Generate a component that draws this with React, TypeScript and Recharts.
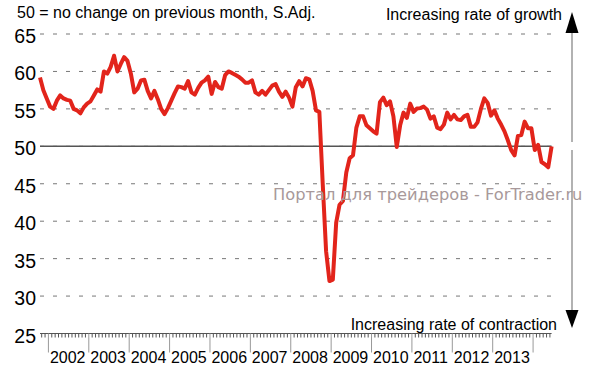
import React from 'react';
import { LineChart, Line, XAxis, YAxis, CartesianGrid, ReferenceLine } from 'recharts';

// Monthly index: 0 = Jan 2002, first value is Nov 2001 (index -2)
const firstMonth = -2;

// Index readings, Nov 2001 .. Jul 2014
const pmiValues = [
  59.2, 57.5,
  // 2002
  56.4, 55.3, 55.0, 56.1, 56.8, 56.4, 56.2, 56.1, 55.0, 54.8, 54.4, 55.2,
  // 2003
  55.7, 56.0, 56.8, 57.6, 57.3, 60.0, 59.7, 60.6, 62.1, 60.0, 61.0, 61.9,
  // 2004
  61.4, 59.7, 57.2, 57.7, 58.8, 58.9, 57.4, 56.4, 57.4, 56.3, 55.0, 54.3,
  // 2005
  55.1, 56.1, 57.1, 58.0, 57.9, 57.7, 58.7, 57.2, 56.9, 57.8, 58.5, 58.8,
  // 2006
  59.3, 57.0, 58.6, 57.9, 57.7, 59.5, 60.0, 59.8, 59.55, 59.3, 58.95, 58.5,
  // 2007
  58.5, 58.8, 57.2, 56.9, 57.4, 56.9, 57.5, 58.1, 58.3, 57.3, 56.6, 57.3,
  // 2008
  56.5, 55.3, 57.9, 58.7, 58.0, 59.1, 58.95, 57.4, 54.8, 54.6, 45.0, 36.0,
  // 2009
  32.0, 32.2, 39.8, 42.2, 42.7, 46.5, 48.4, 48.8, 52.5, 54.0, 54.0, 52.8,
  // 2010
  52.4, 52.0, 51.7, 55.9, 56.5, 55.5, 56.0, 54.0, 49.9, 52.8, 54.5, 53.8,
  // 2011
  55.7, 54.6, 55.05, 55.1, 55.3, 54.9, 53.7, 54.0, 52.5, 52.3, 52.9, 54.5,
  // 2012
  53.6, 54.2, 53.6, 53.5, 54.0, 54.2, 52.6, 52.6, 53.2, 55.0, 56.4, 55.8,
  // 2013
  54.1, 54.8, 53.7, 52.9, 52.0, 50.8, 49.5, 48.8, 51.4, 51.5, 53.3, 52.4,
  // 2014
  52.4, 49.5, 50.2, 47.9, 47.6, 47.2, 50.0,
];

const yearLabels = ['2002', '2003', '2004', '2005', '2006', '2007', '2008', '2009', '2010', '2011', '2012', '2013'];
const yTicks = [25, 30, 35, 40, 45, 50, 55, 60, 65];

const data = pmiValues.map((v, k) => ({ m: firstMonth + k, v }));
const lastMonth = firstMonth + pmiValues.length - 1;

// month boundaries for the minor ticks
const monthTicks: number[] = [];
for (let m = firstMonth; m < lastMonth; m++) monthTicks.push(m + 0.5);

const FONT = 'Arial, "Liberation Sans", sans-serif';

const XTick = (props: any) => {
  const { x, y, payload } = props;
  const k = (payload.value - 0.5) / 12;
  const isYear = Math.abs(k - Math.round(k)) < 1e-6;
  if (!isYear) {
    return <line x1={x} x2={x} y1={y} y2={y + 4} stroke="#555" strokeWidth={1} />;
  }
  const label = yearLabels[Math.round(k)];
  return (
    <g>
      <line x1={x} x2={x} y1={y} y2={y + 19} stroke="#999" strokeWidth={1} />
      {label && (
        <text x={x + 1.5} y={y + 29.5} fontSize={16} fontFamily={FONT} fill="#000">
          {label}
        </text>
      )}
    </g>
  );
};

const YTick = (props: any) => {
  const { y, payload } = props;
  return (
    <text x={36} y={y + 9} textAnchor="end" fontSize={19.5} fontFamily={FONT} fill="#000">
      {payload.value}
    </text>
  );
};

const App: React.FC = () => {
  return (
    <div style={{ position: 'relative', width: 589, height: 367, background: '#fff' }}>
      <style>{'body{margin:0}'}</style>
      <LineChart
        width={589}
        height={367}
        data={data}
        margin={{ top: 34, right: 37.4, left: 0, bottom: 0 }}
      >
        <CartesianGrid vertical={false} stroke="#777" strokeDasharray="4 9" />
        <XAxis
          dataKey="m"
          type="number"
          domain={[firstMonth, lastMonth]}
          ticks={monthTicks}
          interval={0}
          height={33.5}
          tickSize={0}
          tickMargin={0}
          tickLine={false}
          tick={<XTick />}
          axisLine={{ stroke: '#555', strokeWidth: 1 }}
        />
        <YAxis
          type="number"
          domain={[25, 65]}
          ticks={yTicks}
          interval={0}
          width={40}
          axisLine={false}
          tickLine={false}
          tickSize={0}
          tick={<YTick />}
        />
        <ReferenceLine y={50} stroke="#555" strokeWidth={1.5} />
        <Line
          type="linear"
          dataKey="v"
          stroke="#e2241b"
          strokeWidth={4}
          strokeLinejoin="round"
          dot={false}
          isAnimationActive={false}
        />
      </LineChart>
      <svg
        width={589}
        height={367}
        style={{ position: 'absolute', left: 0, top: 0, pointerEvents: 'none' }}
      >
        <text x={17} y={18} fontSize={16} fontFamily={FONT} fill="#000">
          50 = no change on previous month, S.Adj.
        </text>
        <text x={562} y={20} fontSize={16} fontFamily={FONT} fill="#000" textAnchor="end">
          Increasing rate of growth
        </text>
        <text x={557} y={330} fontSize={16} fontFamily={FONT} fill="#000" textAnchor="end">
          Increasing rate of contraction
        </text>
        <text x={273} y={199.5} fontSize={16.3} fontFamily='"DejaVu Sans", sans-serif' fill="#a8999a">
          Портал для трейдеров - ForTrader.ru
        </text>
        <line x1={572} x2={572} y1={32} y2={142} stroke="#999" strokeWidth={1.5} />
        <line x1={572} x2={572} y1={150} y2={312} stroke="#999" strokeWidth={1.5} />
        <polygon points="572,12 565.5,33 578.5,33" fill="#000" />
        <polygon points="572,328 565.5,310 578.5,310" fill="#000" />
      </svg>
    </div>
  );
};

export default App;
